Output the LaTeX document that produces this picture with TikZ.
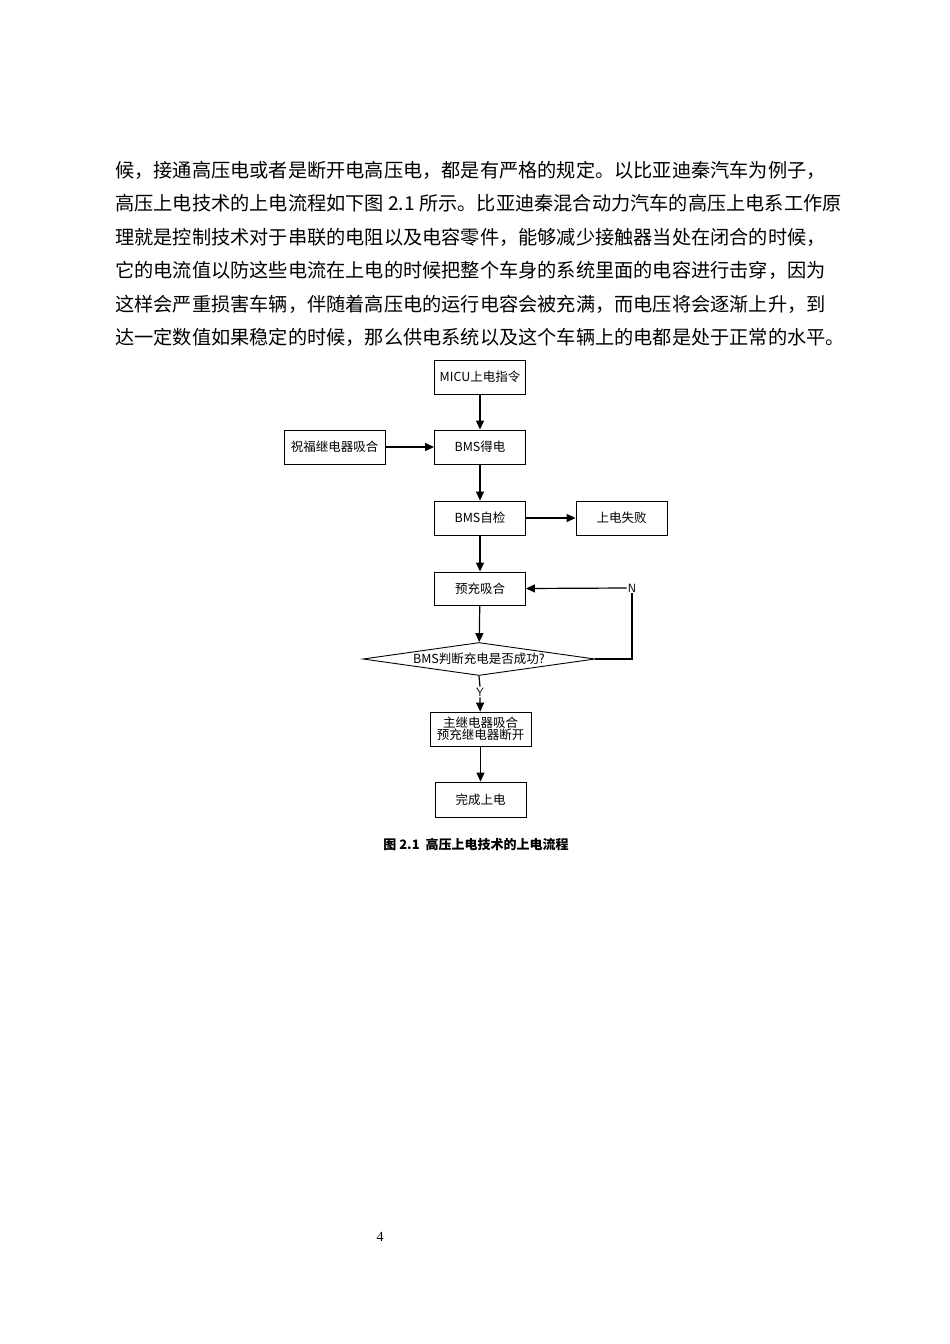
\documentclass[tikz,border=0pt]{standalone}
\usepackage{fontspec}
\setmainfont{Liberation Serif}
\newfontfamily\cjk{Noto Sans CJK SC}
\usetikzlibrary{shapes.geometric,arrows.meta}
\begin{document}
\begin{tikzpicture}[x=1pt,y=-1pt,
  box/.style={draw,line width=0.9pt,minimum width=91pt,minimum height=34pt,inner sep=1pt,font=\cjk\fontsize{12.5}{15}\selectfont,align=center},
  arr/.style={-{Triangle[length=9pt,width=8pt]},line width=1.2pt},
  para/.style={anchor=west,inner sep=0,font=\cjk\fontsize{19.2}{20}\selectfont}]
\useasboundingbox[fill=white] (0,0) rectangle (950,1344);
\node[para] (l1) at (115,170) {候，接通高压电或者是断开电高压电，都是有严格的规定。以比亚迪秦汽车为例子，};
\node[para] (l2) at (115,203.5) {高压上电技术的上电流程如下图 2.1 所示。比亚迪秦混合动力汽车的高压上电系工作原};
\node[para] (l3) at (115,237) {理就是控制技术对于串联的电阻以及电容零件，能够减少接触器当处在闭合的时候，};
\node[para] (l4) at (115,270.5) {它的电流值以防这些电流在上电的时候把整个车身的系统里面的电容进行击穿，因为};
\node[para] (l5) at (115,304) {这样会严重损害车辆，伴随着高压电的运行电容会被充满，而电压将会逐渐上升，到};
\node[para] (l6) at (115,337.5) {达一定数值如果稳定的时候，那么供电系统以及这个车辆上的电都是处于正常的水平。};

\node[box] (micu) at (480,377) {MICU上电指令};
\node[box] (bms1) at (480,447) {BMS得电};
\node[box,minimum width=101pt] (zf) at (334.5,447) {祝福继电器吸合};
\node[box] (bms2) at (480,518) {BMS自检};
\node[box] (fail) at (621.5,518) {上电失败};
\node[box,minimum height=33pt] (yc) at (480,588.5) {预充吸合};
\node[draw,line width=0.9pt,diamond,aspect=7,minimum width=232pt,minimum height=33pt,inner sep=0,font=\cjk\fontsize{12.5}{15}\selectfont] (dec) at (479,659) {BMS判断充电是否成功?};
\node[box,minimum width=101pt] (main) at (480.5,729) {主继电器吸合\\[-3pt]预充继电器断开};
\node[box,minimum height=35pt] (done) at (480.5,799.5) {完成上电};
\coordinate (nc) at (632,659);
\node[fill=white,inner sep=1pt,font=\fontsize{12}{14}\selectfont\sffamily] (N) at (632,588) {N};
\node[fill=white,inner sep=1pt,font=\fontsize{12}{14}\selectfont\sffamily] (Y) at (480,692) {Y};

\draw[arr] (micu) -- (bms1);
\draw[arr] (zf) -- (bms1);
\draw[arr] (bms1) -- (bms2);
\draw[arr] (bms2) -- (fail);
\draw[arr] (bms2) -- (yc);
\draw[arr] (yc) -- (dec);
\draw[line width=1.2pt] (dec.east) -- (nc) -- (N.south);
\draw[arr] (N.west) -- (yc.east);
\draw[line width=1.2pt] (dec.south) -- (Y.north);
\draw[arr] (Y.south) -- (main);
\draw[arr] (main) -- (done);

\node[font=\cjk\bfseries\fontsize{13}{15}\selectfont] (cap) at (476,845) {图 2.1\ \ 高压上电技术的上电流程};
\node[font=\fontsize{14}{16}\selectfont] (pg) at (380,1237) {4};
\end{tikzpicture}
\end{document}
